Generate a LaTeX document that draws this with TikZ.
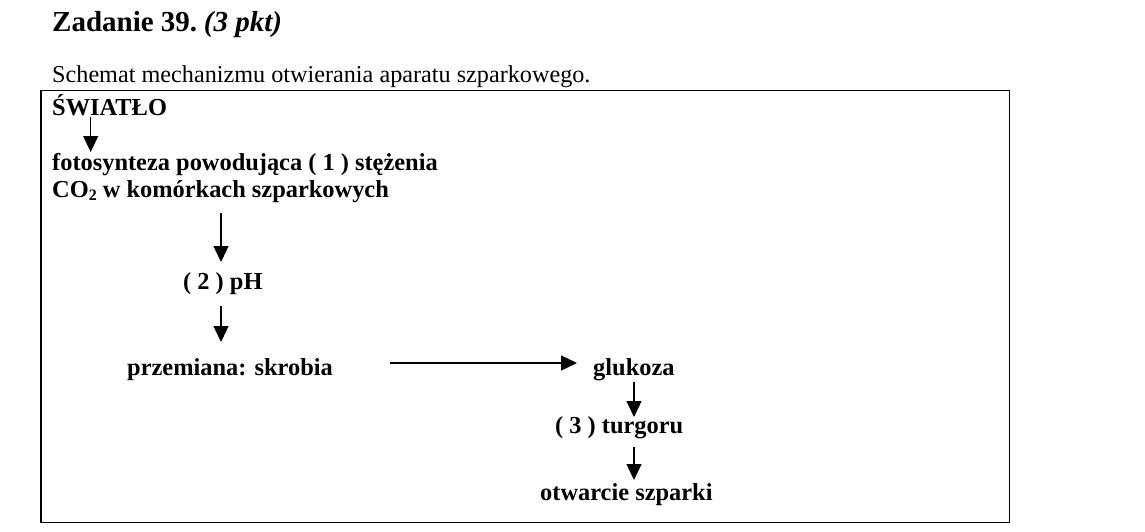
\documentclass[tikz,border=0pt]{standalone}
\usepackage{fontspec}
\setmainfont{Liberation Serif}
\usetikzlibrary{arrows.meta}
\begin{document}
\begin{tikzpicture}[x=1pt,y=-1pt,
  txt/.style={anchor=base west,inner sep=0pt,font=\fontsize{24.4}{27}\selectfont\bfseries},
  arr/.style={line width=1.3pt,-{Triangle[length=16pt,width=15pt]}}]
\useasboundingbox (0,0) rectangle (1145,532);
\node[anchor=base west,inner sep=0pt,font=\fontsize{29}{33}\selectfont\bfseries] (head) at (52,32) {Zadanie 39.\hspace{-3pt} \textit{(3 pkt)}};
\node[anchor=base west,inner sep=0pt,font=\fontsize{24.2}{27}\selectfont] (cap) at (52,83) {Schemat mechanizmu otwierania aparatu szparkowego.};
\draw[line width=1.3pt] (41,90.7) rectangle (1009.5,522.5);
\node[txt] (swiatlo) at (52,116) {ŚWIATŁO};
\node[txt] (foto1) at (52,170) {fotosynteza powodująca ( 1 ) stężenia};
\node[txt] (foto2) at (52,197) {CO\raisebox{-3pt}{\fontsize{16}{16}\selectfont 2} w komórkach szparkowych};
\node[txt] (ph) at (183,289) {( 2 ) pH};
\node[txt] (skrobia) at (127,375) {przemiana: skrobia};
\node[txt] (glukoza) at (593,375) {glukoza};
\node[txt] (turgor) at (555,433) {( 3 ) turgoru};
\node[txt] (otw) at (540,500) {otwarcie szparki};
\coordinate (a1s) at (90.7,117);  \coordinate (a1e) at (90.7,152);
\coordinate (a2s) at (221,213);   \coordinate (a2e) at (221,262);
\coordinate (a3s) at (221,306);   \coordinate (a3e) at (221,342);
\coordinate (a4s) at (390,363);   \coordinate (a4e) at (577,363);
\coordinate (a5s) at (634,382);   \coordinate (a5e) at (634,417);
\coordinate (a6s) at (634,447);   \coordinate (a6e) at (634,480);
\draw[arr] (a1s) -- (a1e);
\draw[arr] (a2s) -- (a2e);
\draw[arr] (a3s) -- (a3e);
\draw[arr] (a4s) -- (a4e);
\draw[arr] (a5s) -- (a5e);
\draw[arr] (a6s) -- (a6e);
\end{tikzpicture}
\end{document}
